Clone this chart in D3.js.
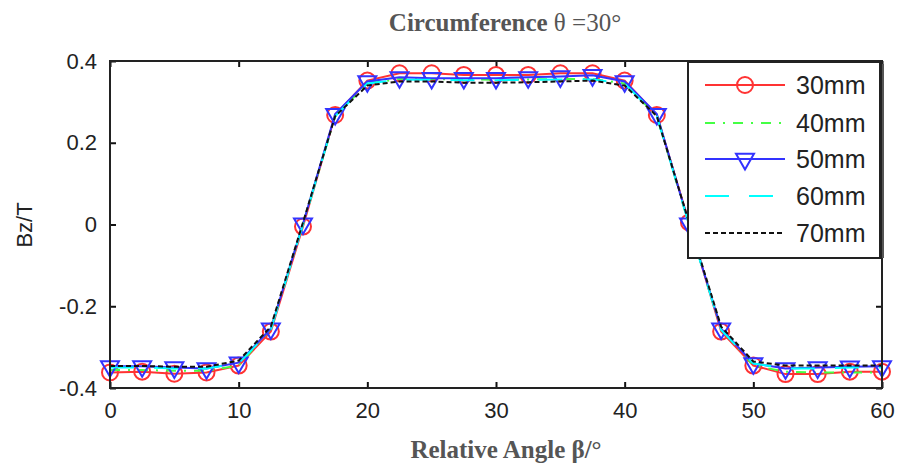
<!DOCTYPE html>
<html>
<head>
<meta charset="utf-8">
<script src="https://cdn.jsdelivr.net/npm/d3@7"></script>
<style>
body { margin: 0; background: #fff; }
svg { display: block; }
</style>
</head>
<body>
<script>
// relative angle, degrees
var angles = [0, 2.5, 5, 7.5, 10, 12.5, 15, 17.5, 20, 22.5, 25, 27.5, 30,
              32.5, 35, 37.5, 40, 42.5, 45, 47.5, 50, 52.5, 55, 57.5, 60];
// Bz in tesla
var bz30 = [-0.362, -0.36, -0.365, -0.362, -0.345, -0.262, -0.005, 0.268, 0.352, 0.37, 0.37, 0.366, 0.366,
            0.366, 0.37, 0.37, 0.352, 0.268, 0.005, -0.262, -0.345, -0.366, -0.366, -0.36, -0.36];
var bz40 = [-0.356, -0.356, -0.358, -0.358, -0.345, -0.255, 0, 0.265, 0.345, 0.356, 0.356, 0.355, 0.354,
            0.355, 0.356, 0.356, 0.345, 0.265, 0, -0.255, -0.345, -0.36, -0.362, -0.362, -0.362];
var bz50 = [-0.347, -0.347, -0.35, -0.352, -0.338, -0.255, 0.002, 0.27, 0.35, 0.36, 0.358, 0.358, 0.358,
            0.36, 0.362, 0.365, 0.35, 0.27, 0.002, -0.255, -0.34, -0.352, -0.35, -0.348, -0.347];
var bz60 = [-0.35, -0.35, -0.352, -0.352, -0.34, -0.258, 0, 0.265, 0.345, 0.354, 0.354, 0.353, 0.353,
            0.354, 0.355, 0.355, 0.345, 0.265, 0, -0.258, -0.34, -0.352, -0.352, -0.35, -0.35];
var bz70 = [-0.346, -0.346, -0.348, -0.348, -0.333, -0.25, 0.005, 0.265, 0.34, 0.35, 0.35, 0.347, 0.347,
            0.348, 0.35, 0.352, 0.34, 0.265, 0.005, -0.25, -0.335, -0.345, -0.345, -0.345, -0.345];

var seriesNames = ["30mm", "40mm", "50mm", "60mm", "70mm"];
var xTicks = [0, 10, 20, 30, 40, 50, 60];
var yTicks = [-0.4, -0.2, 0, 0.2, 0.4];

// how each line looks
var styles = [
	{ color: "#ff3333", dash: null, marker: "circle" },
	{ color: "#44ff44", dash: "10,8,2,8", marker: null },
	{ color: "#3333ff", dash: null, marker: "tri" },
	{ color: "#00ffff", dash: "24,20", marker: null },
	{ color: "#111111", dash: "5,3", marker: null }
];
var allSeries = [bz30, bz40, bz50, bz60, bz70];

var W = 897, H = 465;
var plot = { left: 110, right: 882, top: 61, bottom: 388 };

var svg = d3.select("body").append("svg").attr("width", W).attr("height", H);

var x = d3.scaleLinear().domain([0, 60]).range([plot.left, plot.right]);
var y = d3.scaleLinear().domain([-0.4, 0.4]).range([plot.bottom, plot.top]);

function fmtY(v) {
	if (v === 0) return "0";
	return (v < 0 ? "-" : "") + Math.abs(v).toFixed(1);
}

//оси со всех четырёх сторон, засечки внутрь
var tickFont = "Arial, 'Liberation Sans', sans-serif";
var gb = svg.append("g").attr("transform", "translate(0," + plot.bottom + ")")
	.call(d3.axisBottom(x).tickValues(xTicks).tickSizeInner(-6).tickSizeOuter(0).tickPadding(14));
var gt = svg.append("g").attr("transform", "translate(0," + plot.top + ")")
	.call(d3.axisTop(x).tickValues(xTicks).tickSizeInner(-6).tickSizeOuter(0).tickFormat(""));
var gl = svg.append("g").attr("transform", "translate(" + plot.left + ",0)")
	.call(d3.axisLeft(y).tickValues(yTicks).tickSizeInner(-6).tickSizeOuter(0).tickPadding(13).tickFormat(fmtY));
var gr = svg.append("g").attr("transform", "translate(" + plot.right + ",0)")
	.call(d3.axisRight(y).tickValues(yTicks).tickSizeInner(-6).tickSizeOuter(0).tickFormat(""));
[gb, gt, gl, gr].forEach(function(g) {
	g.select(".domain").remove();
	g.selectAll(".tick line").attr("stroke", "#111").attr("stroke-width", 2);
	g.selectAll(".tick text").attr("fill", "#222").style("font-family", tickFont).style("font-size", "22px");
});
gb.selectAll(".tick text").attr("dy", "0.71em");

var line = d3.line()
	.x(function(d, i) { return x(angles[i]); })
	.y(function(d) { return y(d); });

var tri = d3.symbol().type(d3.symbolTriangle).size(140);

function drawMarker(g, kind, cx, cy, color) {
	if (kind === "circle") {
		g.append("circle").attr("cx", cx).attr("cy", cy).attr("r", 8)
			.attr("fill", "none").attr("stroke", color).attr("stroke-width", 2);
	} else if (kind === "tri") {
		g.append("path").attr("d", tri())
			.attr("transform", "translate(" + cx + "," + cy + ") rotate(180)")
			.attr("fill", "none").attr("stroke", color).attr("stroke-width", 2);
	}
}

var lines = svg.append("g");
allSeries.forEach(function(vals, k) {
	var st = styles[k];
	lines.append("path").datum(vals)
		.attr("d", line)
		.attr("fill", "none")
		.attr("stroke", st.color)
		.attr("stroke-width", 2)
		.attr("stroke-dasharray", st.dash);
	if (st.marker) {
		vals.forEach(function(v, i) {
			drawMarker(lines, st.marker, x(angles[i]), y(v), st.color);
		});
	}
});

// рамка графика
svg.append("rect")
	.attr("x", plot.left).attr("y", plot.top)
	.attr("width", plot.right - plot.left).attr("height", plot.bottom - plot.top)
	.attr("fill", "none").attr("stroke", "#222").attr("stroke-width", 2);

// легенда
var lg = { x: 688, y: 62, w: 192, h: 196 };
svg.append("line").attr("x1", lg.x + lg.w + 3).attr("x2", lg.x + lg.w + 3)
	.attr("y1", lg.y + 2).attr("y2", lg.y + lg.h)
	.attr("stroke", "#555").attr("stroke-width", 2);
svg.append("rect").attr("x", lg.x).attr("y", lg.y).attr("width", lg.w).attr("height", lg.h)
	.attr("fill", "#fff").attr("stroke", "#222").attr("stroke-width", 2);
var rowY = [85, 123, 159, 196, 233];
seriesNames.forEach(function(name, k) {
	var st = styles[k];
	svg.append("line").attr("x1", 705).attr("x2", 785)
		.attr("y1", rowY[k]).attr("y2", rowY[k])
		.attr("stroke", st.color).attr("stroke-width", 2)
		.attr("stroke-dasharray", st.dash);
	if (st.marker) drawMarker(svg, st.marker, 745, rowY[k], st.color);
	svg.append("text").attr("x", 796).attr("y", rowY[k]).attr("dy", "0.35em")
		.attr("fill", "#222").style("font-family", tickFont).style("font-size", "25px")
		.text(name);
});

// подписи
var serif = "'Liberation Serif', 'Times New Roman', serif";
var title = svg.append("text").attr("x", 505).attr("y", 31).attr("text-anchor", "middle")
	.attr("fill", "#555").style("font-family", serif)
	.style("font-size", "25px");
title.append("tspan").style("font-weight", "bold").text("Circumference ");
title.append("tspan").text("θ =30°");

svg.append("text").attr("x", 506).attr("y", 458).attr("text-anchor", "middle")
	.attr("fill", "#555").style("font-family", serif)
	.style("font-size", "25px").style("font-weight", "bold")
	.text("Relative Angle β/°");

svg.append("text").attr("transform", "translate(32,225) rotate(-90)")
	.attr("text-anchor", "middle").attr("fill", "#222")
	.style("font-family", tickFont).style("font-size", "22px")
	.text("Bz/T");
</script>
</body>
</html>
